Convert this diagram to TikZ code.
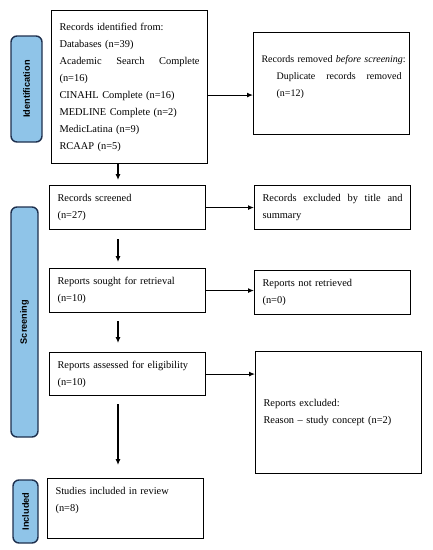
\documentclass[tikz,border=0pt]{standalone}
\usepackage{fontspec}
\setmainfont{Liberation Serif}
\newfontfamily\barfont{Liberation Sans}
\usetikzlibrary{arrows.meta}
\definecolor{barfill}{RGB}{143,196,232}
\definecolor{barline}{RGB}{30,48,78}
\begin{document}
\begin{tikzpicture}[x=1pt,y=1pt,
    stage/.style={draw=barline,line width=1.4pt,fill=barfill,rounded corners=6pt,
      rotate=90,inner sep=0pt,font=\barfont\bfseries\fontsize{9.2}{11}\selectfont},
    record/.style={draw=black,line width=1.1pt,anchor=north west,inner xsep=8pt,inner ysep=0pt,
      align=left,font=\fontsize{10.4}{17}\selectfont},
    arr/.style={line width=1.1pt,-{Latex[length=6pt,width=5pt]}}]
    \useasboundingbox (0,0) rectangle (432,-550);
    \node [stage,minimum width=106pt,minimum height=31pt] (idbar) at (26.5,-89) {Identification};
    \node [stage,minimum width=230pt,minimum height=27pt] (scrbar) at (24.5,-322) {Screening};
    \node [stage,minimum width=63pt,minimum height=25pt] (incbar) at (25.5,-511.5) {Included};
    \node [record,minimum width=156pt,minimum height=153pt,text width=140pt] (ident) at (51,-10)
      {Records identified from:\\ Databases (n=39)\\ Academic\hfill Search\hfill Complete\\ (n=16)\\
       CINAHL Complete (n=16)\\ MEDLINE Complete (n=2)\\ MedicLatina (n=9)\\ RCAAP (n=5)};
    \node [record,minimum width=156pt,minimum height=102pt,text width=140pt,text depth=50pt,
      font=\fontsize{10}{17}\selectfont] (removed) at (253,-32)
      {\mbox{Records removed \textit{before screening}:}\\
       \hspace*{15pt}Duplicate\hfill records\hfill removed\\ \hspace*{15pt}(n=12)};
    \node [record,minimum width=156pt,minimum height=44pt,text width=140pt] (screened) at (49,-185)
      {Records screened\\ (n=27)};
    \node [record,minimum width=156pt,minimum height=44pt,text width=140pt] (excltitle) at (254,-185)
      {Records\hfill excluded\hfill by\hfill title\hfill and\\ summary};
    \node [record,minimum width=156pt,minimum height=44pt,text width=140pt] (sought) at (49,-268)
      {Reports sought for retrieval\\ (n=10)};
    \node [record,minimum width=156pt,minimum height=44pt,text width=140pt] (notretr) at (254,-270)
      {Reports not retrieved\\ (n=0)};
    \node [record,minimum width=156pt,minimum height=43pt,text width=140pt] (assessed) at (49,-352)
      {Reports assessed for eligibility\\ (n=10)};
    \node [record,minimum width=166pt,minimum height=122pt,text width=150pt] (exclrep) at (255,-351)
      {Reports excluded:\\ Reason -- study concept (n=2)};
    \node [record,minimum width=156pt,minimum height=60pt,text width=140pt,text depth=35pt] (included) at (47,-478)
      {Studies included in review\\ (n=8)};
    \coordinate (col) at (118,0);
    \draw [arr] ([yshift=-8pt]ident.east) -- ([yshift=-8pt]ident.east -| removed.west);
    \draw [arr] (ident.south -| col) -- ([yshift=5pt]screened.north -| col);
    \draw [arr] (screened.east) -- (screened.east -| excltitle.west);
    \draw [arr] ([yshift=-9pt]screened.south -| col) -- ([yshift=6pt]sought.north -| col);
    \draw [arr] (sought.east) -- (sought.east -| notretr.west);
    \draw [arr] ([yshift=-8pt]sought.south -| col) -- ([yshift=9pt]assessed.north -| col);
    \draw [arr] (assessed.east) -- (assessed.east -| exclrep.west);
    \draw [arr] ([yshift=-8pt]assessed.south -| col) -- ([yshift=13pt]included.north -| col);
\end{tikzpicture}
\end{document}
